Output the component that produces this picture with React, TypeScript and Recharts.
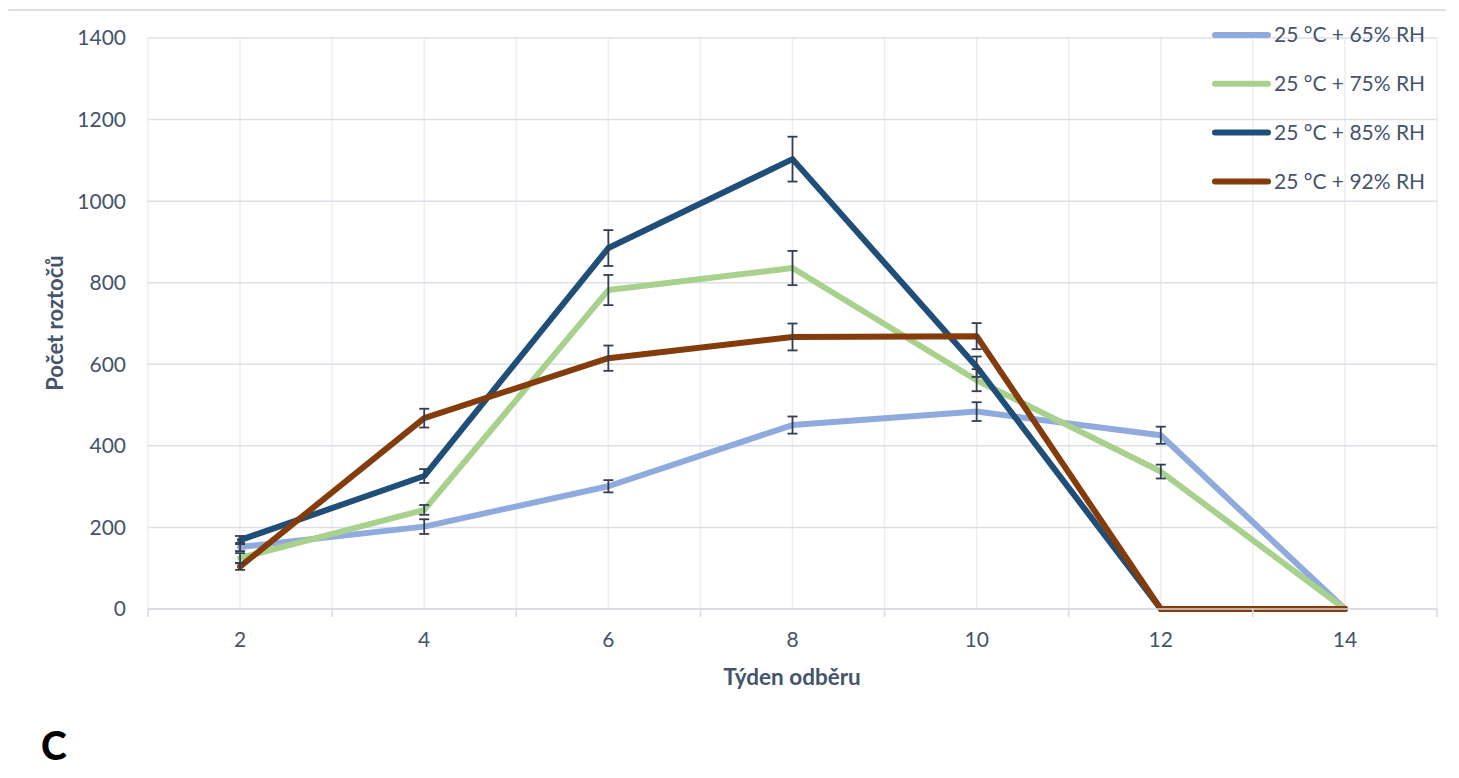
import React from 'react';
import { LineChart, Line, XAxis, YAxis, CartesianGrid, ErrorBar } from 'recharts';

const weeks = [2, 4, 6, 8, 10, 12, 14];
const rh65 = [152, 202, 301, 451, 484, 426, 0];
const rh65Err = [10, 18, 15, 21, 23, 21, 0];
const rh75 = [125, 243, 782, 836, 561, 337, 0];
const rh75Err = [12, 12, 37, 42, 27, 17, 0];
const rh85 = [169, 326, 885, 1103, 594, 0, 0];
const rh85Err = [10, 17, 44, 55, 25, 0, 0];
const rh92 = [104, 468, 615, 667, 669, 0, 0];
const rh92Err = [8, 23, 31, 33, 32, 0, 0];

const yTicks = [0, 200, 400, 600, 800, 1000, 1200, 1400];
const xLabelTicks = [2, 4, 6, 8, 10, 12, 14];
const gridTicks = [1, 2, 3, 4, 5, 6, 7, 8, 9, 10, 11, 12, 13, 14, 15];

const seriesNames = ['25 °C + 65% RH', '25 °C + 75% RH', '25 °C + 85% RH', '25 °C + 92% RH'];
const seriesKeys = ['rh65', 'rh75', 'rh85', 'rh92'];
const seriesColors = ['#8FAADC', '#A9D18E', '#1F4E79', '#843C0C'];

const xTitle = 'Týden odběru';
const yTitle = 'Počet roztočů';
const panelLabel = 'C';

const data = weeks.map((w, i) => ({
  week: w,
  rh65: rh65[i], rh65Err: rh65Err[i],
  rh75: rh75[i], rh75Err: rh75Err[i],
  rh85: rh85[i], rh85Err: rh85Err[i],
  rh92: rh92[i], rh92Err: rh92Err[i],
}));

const FONT = 'Lato, "Open Sans", sans-serif';
const TEXT = '#44546A';
const AXIS = '#D6DAE1';

const XTick = (props: any) => {
  const { x, y, payload } = props;
  const v = payload.value;
  if (xLabelTicks.indexOf(v) === -1) {
    return <line x1={x} y1={y} x2={x} y2={y + 8} stroke={AXIS} strokeWidth={1.5} />;
  }
  return (
    <text x={x} y={y + 38} textAnchor="middle" fill={TEXT} fontSize={21} fontFamily={FONT}>
      {v}
    </text>
  );
};

const YTick = (props: any) => {
  const { x, y, payload } = props;
  return (
    <text x={x - 22} y={y} dy="0.355em" textAnchor="end" fill={TEXT} fontSize={21} fontFamily={FONT}>
      {payload.value}
    </text>
  );
};

export default function App() {
  const W = 1451;
  const H = 760;
  return (
    <div style={{ position: 'relative', width: W, height: H }}>
      <div
        style={{
          position: 'absolute', left: -2, top: 1, width: 1440, height: 755,
          borderLeft: '2px solid #DDE1E7', borderTop: '2px solid #DDE1E7', boxSizing: 'border-box',
        }}
      />
      <div style={{ position: 'absolute', left: 0, top: 0 }}>
        <LineChart width={W} height={H} data={data} margin={{ top: 30, right: 22, bottom: 129, left: 80 }}>
          <CartesianGrid horizontal={false} vertical={true} stroke="#ECEEF2" strokeWidth={1.5} />
          <CartesianGrid horizontal={true} vertical={false} stroke="#DCE0E6" strokeWidth={1.5} />
          <XAxis
            dataKey="week"
            type="number"
            domain={[1, 15]}
            ticks={gridTicks}
            interval={0}
            tickSize={0}
            tickMargin={0}
            tickLine={false}
            axisLine={{ stroke: AXIS, strokeWidth: 1.5 }}
            tick={<XTick />}
            height={30}
          />
          <YAxis
            type="number"
            domain={[0, 1400]}
            ticks={yTicks}
            interval={0}
            tickSize={0}
            tickMargin={0}
            tickLine={false}
            axisLine={false}
            tick={<YTick />}
            width={60}
          />
          {seriesKeys.map((k, i) => (
            <Line
              key={k}
              dataKey={k}
              name={seriesNames[i]}
              stroke={seriesColors[i]}
              strokeWidth={6}
              strokeLinejoin="round"
              strokeLinecap="round"
              dot={false}
              activeDot={false}
              isAnimationActive={false}
            />
          ))}
          {seriesKeys.map((k) => (
            <Line
              key={k + '-err'}
              dataKey={k}
              stroke="none"
              dot={false}
              activeDot={false}
              legendType="none"
              isAnimationActive={false}
            >
              <ErrorBar dataKey={k + 'Err'} width={5} stroke="#333F50" strokeWidth={1.8} direction="y" />
            </Line>
          ))}
        </LineChart>
      </div>
      <svg
        width={W}
        height={H}
        style={{ position: 'absolute', left: 0, top: 0, pointerEvents: 'none' }}
      >
        {seriesNames.map((n, i) => {
          const cy = 27 + i * 48.8;
          return (
            <g key={n}>
              <line x1={1207} y1={cy} x2={1260} y2={cy} stroke={seriesColors[i]} strokeWidth={6} strokeLinecap="round" />
              <text x={1266} y={cy} dy="0.355em" fill={TEXT} fontSize={21} fontFamily={FONT}>
                {n}
              </text>
            </g>
          );
        })}
        <text x={784} y={669} dy="0.355em" textAnchor="middle" fill={TEXT} fontSize={22.5} fontWeight="bold" fontFamily={FONT}>
          {xTitle}
        </text>
        <text
          x={47}
          y={315}
          dy="0.355em"
          textAnchor="middle"
          fill={TEXT}
          fontSize={22}
          fontWeight="bold"
          fontFamily={FONT}
          transform="rotate(-90 47 315)"
        >
          {yTitle}
        </text>
        <text x={33} y={752} fill="#000000" fontSize={39} fontWeight={900} fontFamily={FONT}>
          {panelLabel}
        </text>
      </svg>
    </div>
  );
}
